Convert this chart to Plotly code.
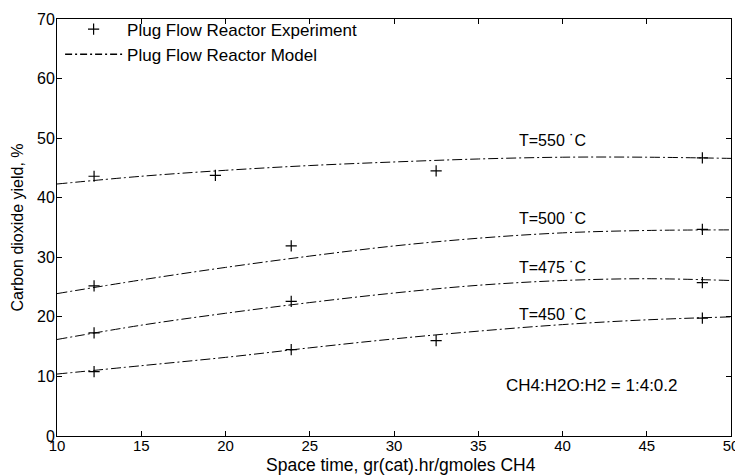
import plotly.graph_objects as go

# ---- data ----
model_x = [10, 15, 20, 25, 30, 35, 40, 45, 50]
model_550 = [42.3, 43.6, 44.6, 45.4, 46.0, 46.5, 46.8, 46.8, 46.6]
model_500 = [23.9, 26.2, 28.3, 30.2, 31.9, 33.2, 34.1, 34.5, 34.6]
model_475 = [16.2, 18.6, 20.6, 22.4, 24.0, 25.3, 26.1, 26.4, 26.1]
model_450 = [10.4, 11.8, 13.2, 14.8, 16.3, 17.6, 18.7, 19.5, 20.0]

exp_550_x = [12.2, 19.4, 32.5, 48.3]
exp_550_y = [43.6, 43.75, 44.5, 46.7]
exp_500_x = [12.2, 23.9, 48.3]
exp_500_y = [25.2, 31.9, 34.7]
exp_475_x = [12.2, 23.9, 48.3]
exp_475_y = [17.3, 22.6, 25.75]
exp_450_x = [12.2, 23.9, 32.5, 48.3]
exp_450_y = [10.8, 14.5, 16.0, 19.8]

label_texts = ["T=550 \u02d9C", "T=500 \u02d9C", "T=475 \u02d9C", "T=450 \u02d9C"]
label_x = [39.4, 39.4, 39.4, 39.4]
label_y = [49.6, 36.5, 28.3, 20.4]

x_ticks = [10, 15, 20, 25, 30, 35, 40, 45, 50]
y_ticks = [0, 10, 20, 30, 40, 50, 60, 70]

x_title = "Space time, gr(cat).hr/gmoles CH4"
y_title = "Carbon dioxide yield, %"
ratio_text = "CH4:H2O:H2 = 1:4:0.2"

FONT = "Liberation Sans, Arial, Helvetica, sans-serif"
DASH = "10px,3px,2px,3px"

fig = go.Figure()

models = [model_550, model_500, model_475, model_450]
for i, ys in enumerate(models):
    fig.add_trace(go.Scatter(
        x=model_x, y=ys, mode="lines", line=dict(color="black", width=1, dash=DASH, shape="spline"),
        name="Plug Flow Reactor Model", showlegend=False, legendrank=2,
    ))

exps = [(exp_550_x, exp_550_y), (exp_500_x, exp_500_y), (exp_475_x, exp_475_y), (exp_450_x, exp_450_y)]
for i, (xs, ys) in enumerate(exps):
    fig.add_trace(go.Scatter(
        x=xs, y=ys, mode="markers",
        marker=dict(symbol="cross-thin", size=8, line=dict(color="black", width=1.2), color="black"),
        name="Plug Flow Reactor Experiment", showlegend=(i == 0), legendrank=1,
    ))

# legend-only model entry
fig.add_trace(go.Scatter(
    x=[None], y=[None], mode="lines", line=dict(color="black", width=1.5, dash="7px,3px,2px,3px"),
    name="Plug Flow Reactor Model", showlegend=True, legendrank=2,
))

for t, lx, ly in zip(label_texts, label_x, label_y):
    fig.add_annotation(x=lx, y=ly, text=t, showarrow=False, font=dict(family=FONT, size=16, color="black"))

fig.add_annotation(x=0.925, y=0.12, xref="paper", yref="paper", text=ratio_text,
                   showarrow=False, xanchor="right", yanchor="middle",
                   font=dict(family=FONT, size=17, color="black"))

# x-axis title as a paper annotation
fig.add_annotation(x=0.51, y=0, xref="paper", yref="paper", text=x_title, showarrow=False,
                   xanchor="center", yanchor="middle", yshift=-29,
                   font=dict(family=FONT, size=17.5, color="black"))

# The page body has an 8px margin, so the figure is sized to fit the 743x475 window.
fig.update_layout(
    width=735, height=467,
    margin=dict(l=49, r=12, t=4, b=39),
    paper_bgcolor="white", plot_bgcolor="white",
    font=dict(family=FONT, size=16, color="black"),
    legend=dict(x=0.0046, y=1.018, xanchor="left", yanchor="top", bgcolor="rgba(0,0,0,0)",
                font=dict(family=FONT, size=17), itemwidth=57, tracegroupgap=0),
)
fig.update_xaxes(range=[10, 50], tickvals=x_ticks, ticks="inside", ticklen=5, tickcolor="black",
                 showline=True, linecolor="black", linewidth=1, mirror="ticks", showgrid=False, zeroline=False,
                 automargin=False, tickfont=dict(size=15), ticklabelstandoff=-4)
fig.update_yaxes(range=[0, 70], tickvals=y_ticks, ticks="inside", ticklen=5, tickcolor="black",
                 showline=True, linecolor="black", linewidth=1, mirror="ticks", showgrid=False, zeroline=False,
                 title=dict(text=y_title, standoff=9, font=dict(size=16)),
                 automargin=False, tickfont=dict(size=16), ticklabelstandoff=-2)

fig.write_html("out.html")
